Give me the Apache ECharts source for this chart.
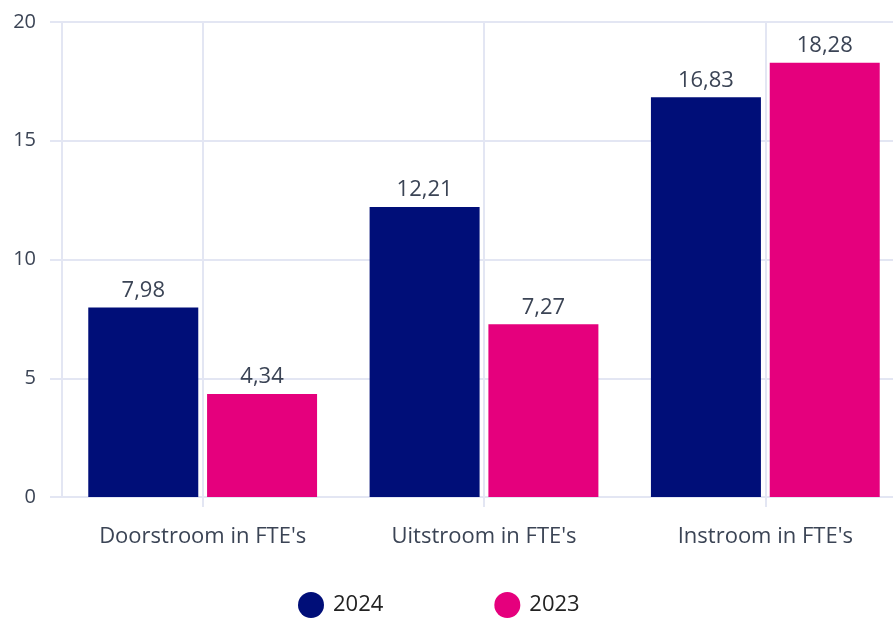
<!DOCTYPE html>
<html>
<head>
<meta charset="utf-8">
<script src="https://cdn.jsdelivr.net/npm/echarts@6/dist/echarts.min.js"></script>
<style>
  html, body { margin: 0; padding: 0; background: #ffffff; }
  #chart { width: 893px; height: 619px; }
</style>
</head>
<body>
<div id="chart"></div>
<script>
// Categories and series values
const categories = ["Doorstroom in FTE's", "Uitstroom in FTE's", "Instroom in FTE's"];
const seriesNames = ['2024', '2023'];
const values2024 = [7.98, 12.21, 16.83];
const values2023 = [4.34, 7.27, 18.28];
const yTicks = [0, 5, 10, 15, 20];

const NAVY = '#000e78';
const PINK = '#e5007d';
const GRID = '#e3e6f3';
const TEXT = '#3b4455';
const FONT = '"Open Sans", "Noto Sans", sans-serif';

const fmt = v => v.toFixed(2).replace('.', ',');

const chart = echarts.init(document.getElementById('chart'), null, { renderer: 'canvas' });

function barSeries(name, data, color) {
  return {
    name: name,
    type: 'bar',
    data: data,
    barWidth: 110,
    barGap: '8%',
    itemStyle: { color: color },
    label: {
      show: true,
      position: 'top',
      distance: 6,
      color: TEXT,
      fontFamily: FONT,
      fontSize: 22,
      formatter: p => fmt(p.value)
    }
  };
}

chart.setOption({
  animation: false,
  textStyle: { fontFamily: FONT },
  // the plot runs a little past the right edge of the canvas
  grid: { left: 62, width: 844, top: 22, bottom: 122, containLabel: false, outerBoundsMode: 'none' },
  legend: {
    data: seriesNames,
    left: 293,
    top: 587,
    icon: 'circle',
    itemWidth: 26,
    itemHeight: 26,
    itemGap: 111,
    textStyle: { color: '#222222', fontFamily: FONT, fontSize: 22, padding: [0, 0, 0, 4] }
  },
  xAxis: {
    type: 'category',
    data: categories,
    axisLine: { show: true, lineStyle: { color: GRID, width: 2 } },
    axisTick: { show: true, alignWithLabel: true, length: 10, lineStyle: { color: GRID, width: 2 } },
    splitLine: { show: true, alignWithLabel: true, lineStyle: { color: GRID, width: 2 } },
    axisLabel: { color: TEXT, fontFamily: FONT, fontSize: 22, margin: 29 }
  },
  yAxis: {
    type: 'value',
    min: yTicks[0],
    max: yTicks[yTicks.length - 1],
    interval: 5,
    axisLine: { show: true, lineStyle: { color: GRID, width: 2 } },
    axisTick: { show: true, length: 12, lineStyle: { color: GRID, width: 2 } },
    splitLine: { show: true, lineStyle: { color: GRID, width: 2 } },
    axisLabel: { color: TEXT, fontFamily: FONT, fontSize: 20, margin: 26 }
  },
  series: [
    barSeries(seriesNames[0], values2024, NAVY),
    barSeries(seriesNames[1], values2023, PINK)
  ]
});
</script>
</body>
</html>
